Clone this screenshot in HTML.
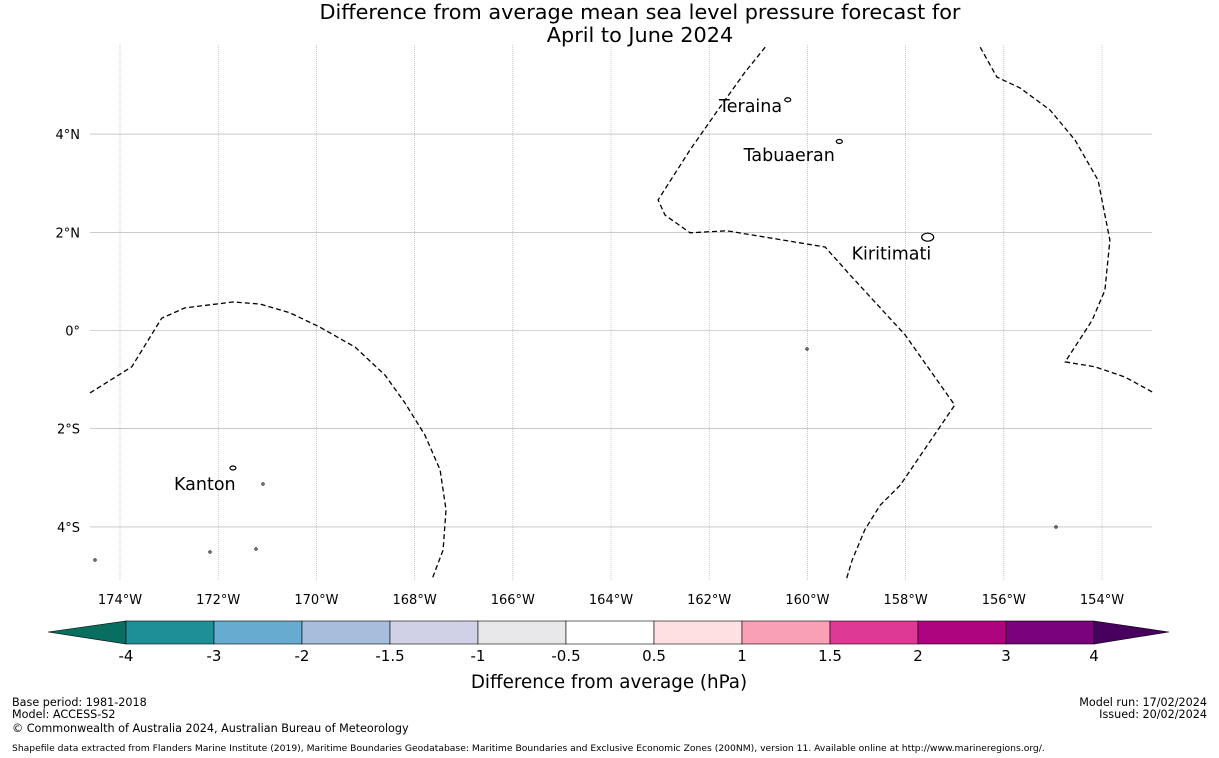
<!DOCTYPE html>
<html><head><meta charset="utf-8"><style>
body{margin:0;background:#fff;width:1219px;height:758px;overflow:hidden;font-family:"DejaVu Sans","Liberation Sans",sans-serif}
svg{position:absolute;left:0;top:0}
</style></head><body>
<svg id="c" width="1219" height="758" xmlns="http://www.w3.org/2000/svg"></svg>
<script>
const lonTicks=[-174,-172,-170,-168,-166,-164,-162,-160,-158,-156,-154];
const latTicks=[4,2,0,-2,-4];
const cbBounds=[-4,-3,-2,-1.5,-1,-0.5,0.5,1,1.5,2,3,4];
const cbLabels=["-4","-3","-2","-1.5","-1","-0.5","0.5","1","1.5","2","3","4"];
const cbColors=["#1e8f96","#68abd1","#a7bddc","#d0d1e6","#e8e8ea","#ffffff","#fde0df","#f99fb6","#df3996","#ae047f","#79037b"];
const kantonLon=[-174.61,-173.76,-173.15,-172.68,-171.70,-171.15,-170.54,-169.93,-169.21,-168.60,-168.20,-167.79,-167.48,-167.36,-167.42,-167.65];
const kantonLat=[-1.27,-0.74,0.25,0.46,0.58,0.54,0.36,0.07,-0.34,-0.91,-1.47,-2.13,-2.84,-3.65,-4.47,-5.08];
const lineLon=[-160.86,-161.27,-161.78,-162.39,-163.04,-162.90,-162.39,-161.64,-159.64,-159.13,-158.01,-157.0,-158.11,-158.52,-158.83,-159.09,-159.21];
const lineLat=[5.77,5.26,4.55,3.68,2.66,2.35,1.99,2.03,1.70,1.13,-0.09,-1.52,-3.15,-3.56,-4.06,-4.68,-5.08];
const rightLon=[-156.48,-156.14,-155.67,-155.06,-154.55,-154.08,-153.84,-153.94,-154.20,-154.75,-154.14,-153.53,-152.98];
const rightLat=[5.77,5.16,4.94,4.49,3.88,3.06,1.84,0.82,0.21,-0.64,-0.74,-0.95,-1.25];
const islandNames=["Teraina","Tabuaeran","Kiritimati","Kanton"];
const islandLon=[-160.4,-159.35,-157.55,-171.7];
const islandLat=[4.7,3.85,1.9,-2.8];
const labelLon=[-161.8,-161.3,-159.1,-172.9];
const labelLat=[4.5,3.5,1.5,-3.2];

const X=lon=>120+(lon+174)*49.1, Y=lat=>330.5-lat*49.1;
const cx=v=>{const i=cbBounds.findIndex((b,k)=>v>=b&&v<=cbBounds[k+1]);const j=Math.min(i,cbBounds.length-2);return 126+(j+(v-cbBounds[j])/(cbBounds[j+1]-cbBounds[j]))*88.0;};
const svg=document.getElementById('c');const NS='http://www.w3.org/2000/svg';
function mk(t,a,txt){const e=document.createElementNS(NS,t);for(const k in a)e.setAttribute(k,a[k]);if(txt!=null)e.textContent=txt;svg.appendChild(e);return e;}
let e;
e=mk('text',{x:640,y:19,'text-anchor':'middle','font-size':20.8},'Difference from average mean sea level pressure forecast for');

e=mk('text',{x:640,y:42,'text-anchor':'middle','font-size':20.8},'April to June 2024');

lonTicks.forEach(l=>{
 e=mk('line',{x1:X(l),x2:X(l),y1:45,y2:580,stroke:'#aaa','stroke-width':0.6,'stroke-dasharray':'1,1'});
 
 e=mk('text',{x:X(l),y:604,'text-anchor':'middle','font-size':13},Math.abs(l)+'°W');
 
});
latTicks.forEach(l=>{
 e=mk('line',{x1:90,x2:1152,y1:Y(l),y2:Y(l),stroke:'#aaa','stroke-width':0.6});
 
 e=mk('text',{x:80,y:Y(l)+5,'text-anchor':'end','font-size':13},(l===0?'0°':Math.abs(l)+'°'+(l>0?'N':'S')));
 
});
function bnd(lo,la,name){const d=lo.map((v,i)=>(i?'L':'M')+X(v).toFixed(1)+','+Y(la[i]).toFixed(1)).join('');
 e=mk('path',{d:d,fill:'none',stroke:'#000','stroke-width':1.3,'stroke-dasharray':'5,3'});
 }
bnd(kantonLon,kantonLat,'eez-boundary-phoenix');
bnd(lineLon,lineLat,'eez-boundary-line-islands');
bnd(rightLon,rightLat,'eez-boundary-east');
islandNames.forEach((n,i)=>{
 e=mk('ellipse',{cx:X(islandLon[i]),cy:Y(islandLat[i]),rx:i==2?6:3,ry:i==2?4:2,fill:'none',stroke:'#000','stroke-width':1.2});
 
 e=mk('text',{x:X(labelLon[i]),y:Y(labelLat[i])+2.5,'font-size':17.5},n);
 
});
[[263,484],[210,552],[256,549],[95,560],[807,349],[1056,527]].forEach(p=>{
 e=mk('circle',{cx:p[0],cy:p[1],r:1.2,fill:'none',stroke:'#000','stroke-width':0.8});
 
});
e=mk('polygon',{points:'48,632 126,621 126,644',fill:'#086e5f',stroke:'#000','stroke-width':0.6});

cbColors.forEach((c,i)=>{const a=cx(cbBounds[i]),b=cx(cbBounds[i+1]);
 e=mk('rect',{x:a,y:621,width:b-a,height:23,fill:c,stroke:'#000','stroke-width':0.6});
 });
e=mk('polygon',{points:'1094,621 1169,632 1094,644',fill:'#48005f',stroke:'#000','stroke-width':0.6});

cbLabels.forEach((l,i)=>{e=mk('text',{x:cx(cbBounds[i]),y:661,'text-anchor':'middle','font-size':15},l);
 });
e=mk('text',{x:609,y:688,'text-anchor':'middle','font-size':18.3},'Difference from average (hPa)');

const notes=[[12,706,'start',11.2,'Base period: 1981-2018','base-period'],[12,718,'start',11.2,'Model: ACCESS-S2','model-name'],[12,732,'start',11.2,'© Commonwealth of Australia 2024, Australian Bureau of Meteorology','copyright'],[1207,706,'end',11.2,'Model run: 17/02/2024','model-run'],[1207,718,'end',11.2,'Issued: 20/02/2024','issued-date'],[12,751,'start',9.2,'Shapefile data extracted from Flanders Marine Institute (2019), Maritime Boundaries Geodatabase: Maritime Boundaries and Exclusive Economic Zones (200NM), version 11. Available online at http://www.marineregions.org/.','shapefile-credit']];
notes.forEach(n=>{e=mk('text',{x:n[0],y:n[1],'text-anchor':n[2],'font-size':n[3]},n[4]);
 });
</script>
</body></html>
